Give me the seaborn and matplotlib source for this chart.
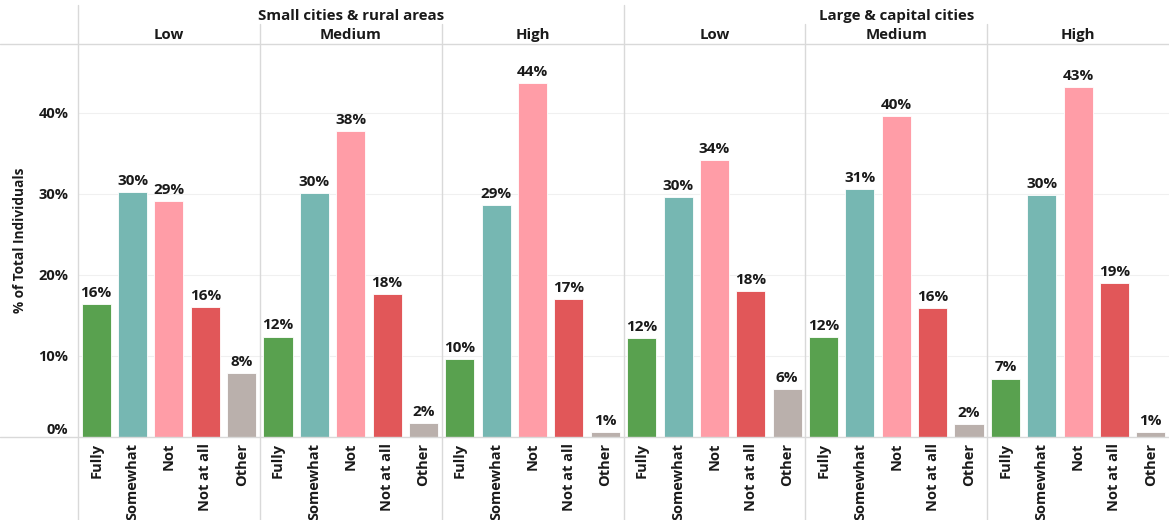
import matplotlib
matplotlib.use("Agg")
import matplotlib.pyplot as plt
import seaborn as sns
import pandas as pd
from matplotlib.lines import Line2D

# ---- data ----
categories = ["Fully", "Somewhat", "Not", "Not at all", "Other"]
groups = ["Small cities & rural areas", "Large & capital cities"]
levels = ["Low", "Medium", "High"]

small_low = [16.4, 30.2, 29.1, 16.0, 7.9]
small_medium = [12.4, 30.1, 37.8, 17.6, 1.7]
small_high = [9.6, 28.6, 43.7, 17.0, 0.6]
large_low = [12.2, 29.6, 34.2, 18.0, 5.9]
large_medium = [12.3, 30.6, 39.6, 15.9, 1.6]
large_high = [7.2, 29.9, 43.2, 19.0, 0.6]

y_ticks = [0, 10, 20, 30, 40]
y_label = "% of Total Individuals"

colors = ["#59A14F", "#76B7B2", "#FF9DA7", "#E15759", "#BAB0AC"]

panels = [
    (groups[0], levels[0], small_low),
    (groups[0], levels[1], small_medium),
    (groups[0], levels[2], small_high),
    (groups[1], levels[0], large_low),
    (groups[1], levels[1], large_medium),
    (groups[1], levels[2], large_high),
]

sns.set_theme(style="white")
plt.rcParams["font.family"] = ["Open Sans", "DejaVu Sans"]
plt.rcParams["font.weight"] = "bold"

W, H = 1169, 520
fig = plt.figure(figsize=(W / 100, H / 100), dpi=100)

left_px, right_px = 78, 1169
top_px, base_px = 44, 437
pw = (right_px - left_px) / 6
txt_color = "#1a1a1a"
grid_col = "#d9d9d9"
palette = dict(zip(categories, colors))

for i, (grp, lvl, vals) in enumerate(panels):
    x0 = left_px + i * pw
    ax = fig.add_axes([x0 / W, (H - base_px) / H, pw / W, (base_px - top_px) / H])
    df = pd.DataFrame({"cat": categories, "val": vals})
    sns.barplot(data=df, x="cat", y="val", hue="cat", order=categories,
                hue_order=categories, palette=palette, legend=False, ax=ax,
                width=0.8, edgecolor="white", linewidth=0.6, saturation=1)
    for c in ax.containers:
        ax.bar_label(c, labels=[f"{v:.0f}%" for v in c.datavalues], padding=3,
                     fontsize=11, fontweight="bold", color=txt_color)
    ax.set_ylim(0, 48.5)
    ax.set_xlim(-0.5, 4.5)
    ax.set_xlabel("")
    ax.set_ylabel("")
    ax.set_yticks(y_ticks)
    for t in y_ticks[1:]:
        ax.axhline(t, color="#f0f0f0", lw=0.8, zorder=0)
    for s in ax.spines.values():
        s.set_visible(False)
    ax.tick_params(axis="x", length=0, pad=4, labelrotation=90,
                   labelsize=10.5, labelcolor=txt_color)
    for lab in ax.get_xticklabels():
        lab.set_fontweight("bold")
    if i == 0:
        ax.set_yticklabels([f"{t}%" for t in y_ticks], fontsize=10.5,
                           fontweight="bold", color=txt_color)
        ax.tick_params(axis="y", length=0, pad=7)
        ax.get_yticklabels()[0].set_va("bottom")
    else:
        ax.set_yticklabels([])
        ax.tick_params(axis="y", length=0)
    ax.set_facecolor("none")

def fx(px):
    return px / W

def fy(py):
    return 1 - py / H

fig.add_artist(Line2D([0, 1], [fy(top_px), fy(top_px)], color=grid_col, lw=1))
fig.add_artist(Line2D([0, 1], [fy(base_px), fy(base_px)], color=grid_col, lw=1))
fig.add_artist(Line2D([fx(left_px)] * 2, [fy(5), 0], color=grid_col, lw=1))
fig.add_artist(Line2D([fx(left_px + 3 * pw)] * 2, [fy(5), 0], color=grid_col, lw=1))
for k in (1, 2, 4, 5):
    fig.add_artist(Line2D([fx(left_px + k * pw)] * 2, [fy(24), 0], color=grid_col, lw=1))

for g in range(2):
    cx = left_px + (g * 3 + 1.5) * pw
    fig.text(fx(cx), fy(16), groups[g], ha="center", va="center",
             fontsize=10.8, fontweight="bold", color=txt_color)
for i, (_, lvl, _) in enumerate(panels):
    cx = left_px + (i + 0.5) * pw
    fig.text(fx(cx), fy(35), lvl, ha="center", va="center",
             fontsize=10.8, fontweight="bold", color=txt_color)

fig.text(fx(20), fy(240), y_label, rotation=90, ha="center", va="center",
         fontsize=9.8, fontweight="bold", color=txt_color)

fig.savefig("out.png", dpi=100)
